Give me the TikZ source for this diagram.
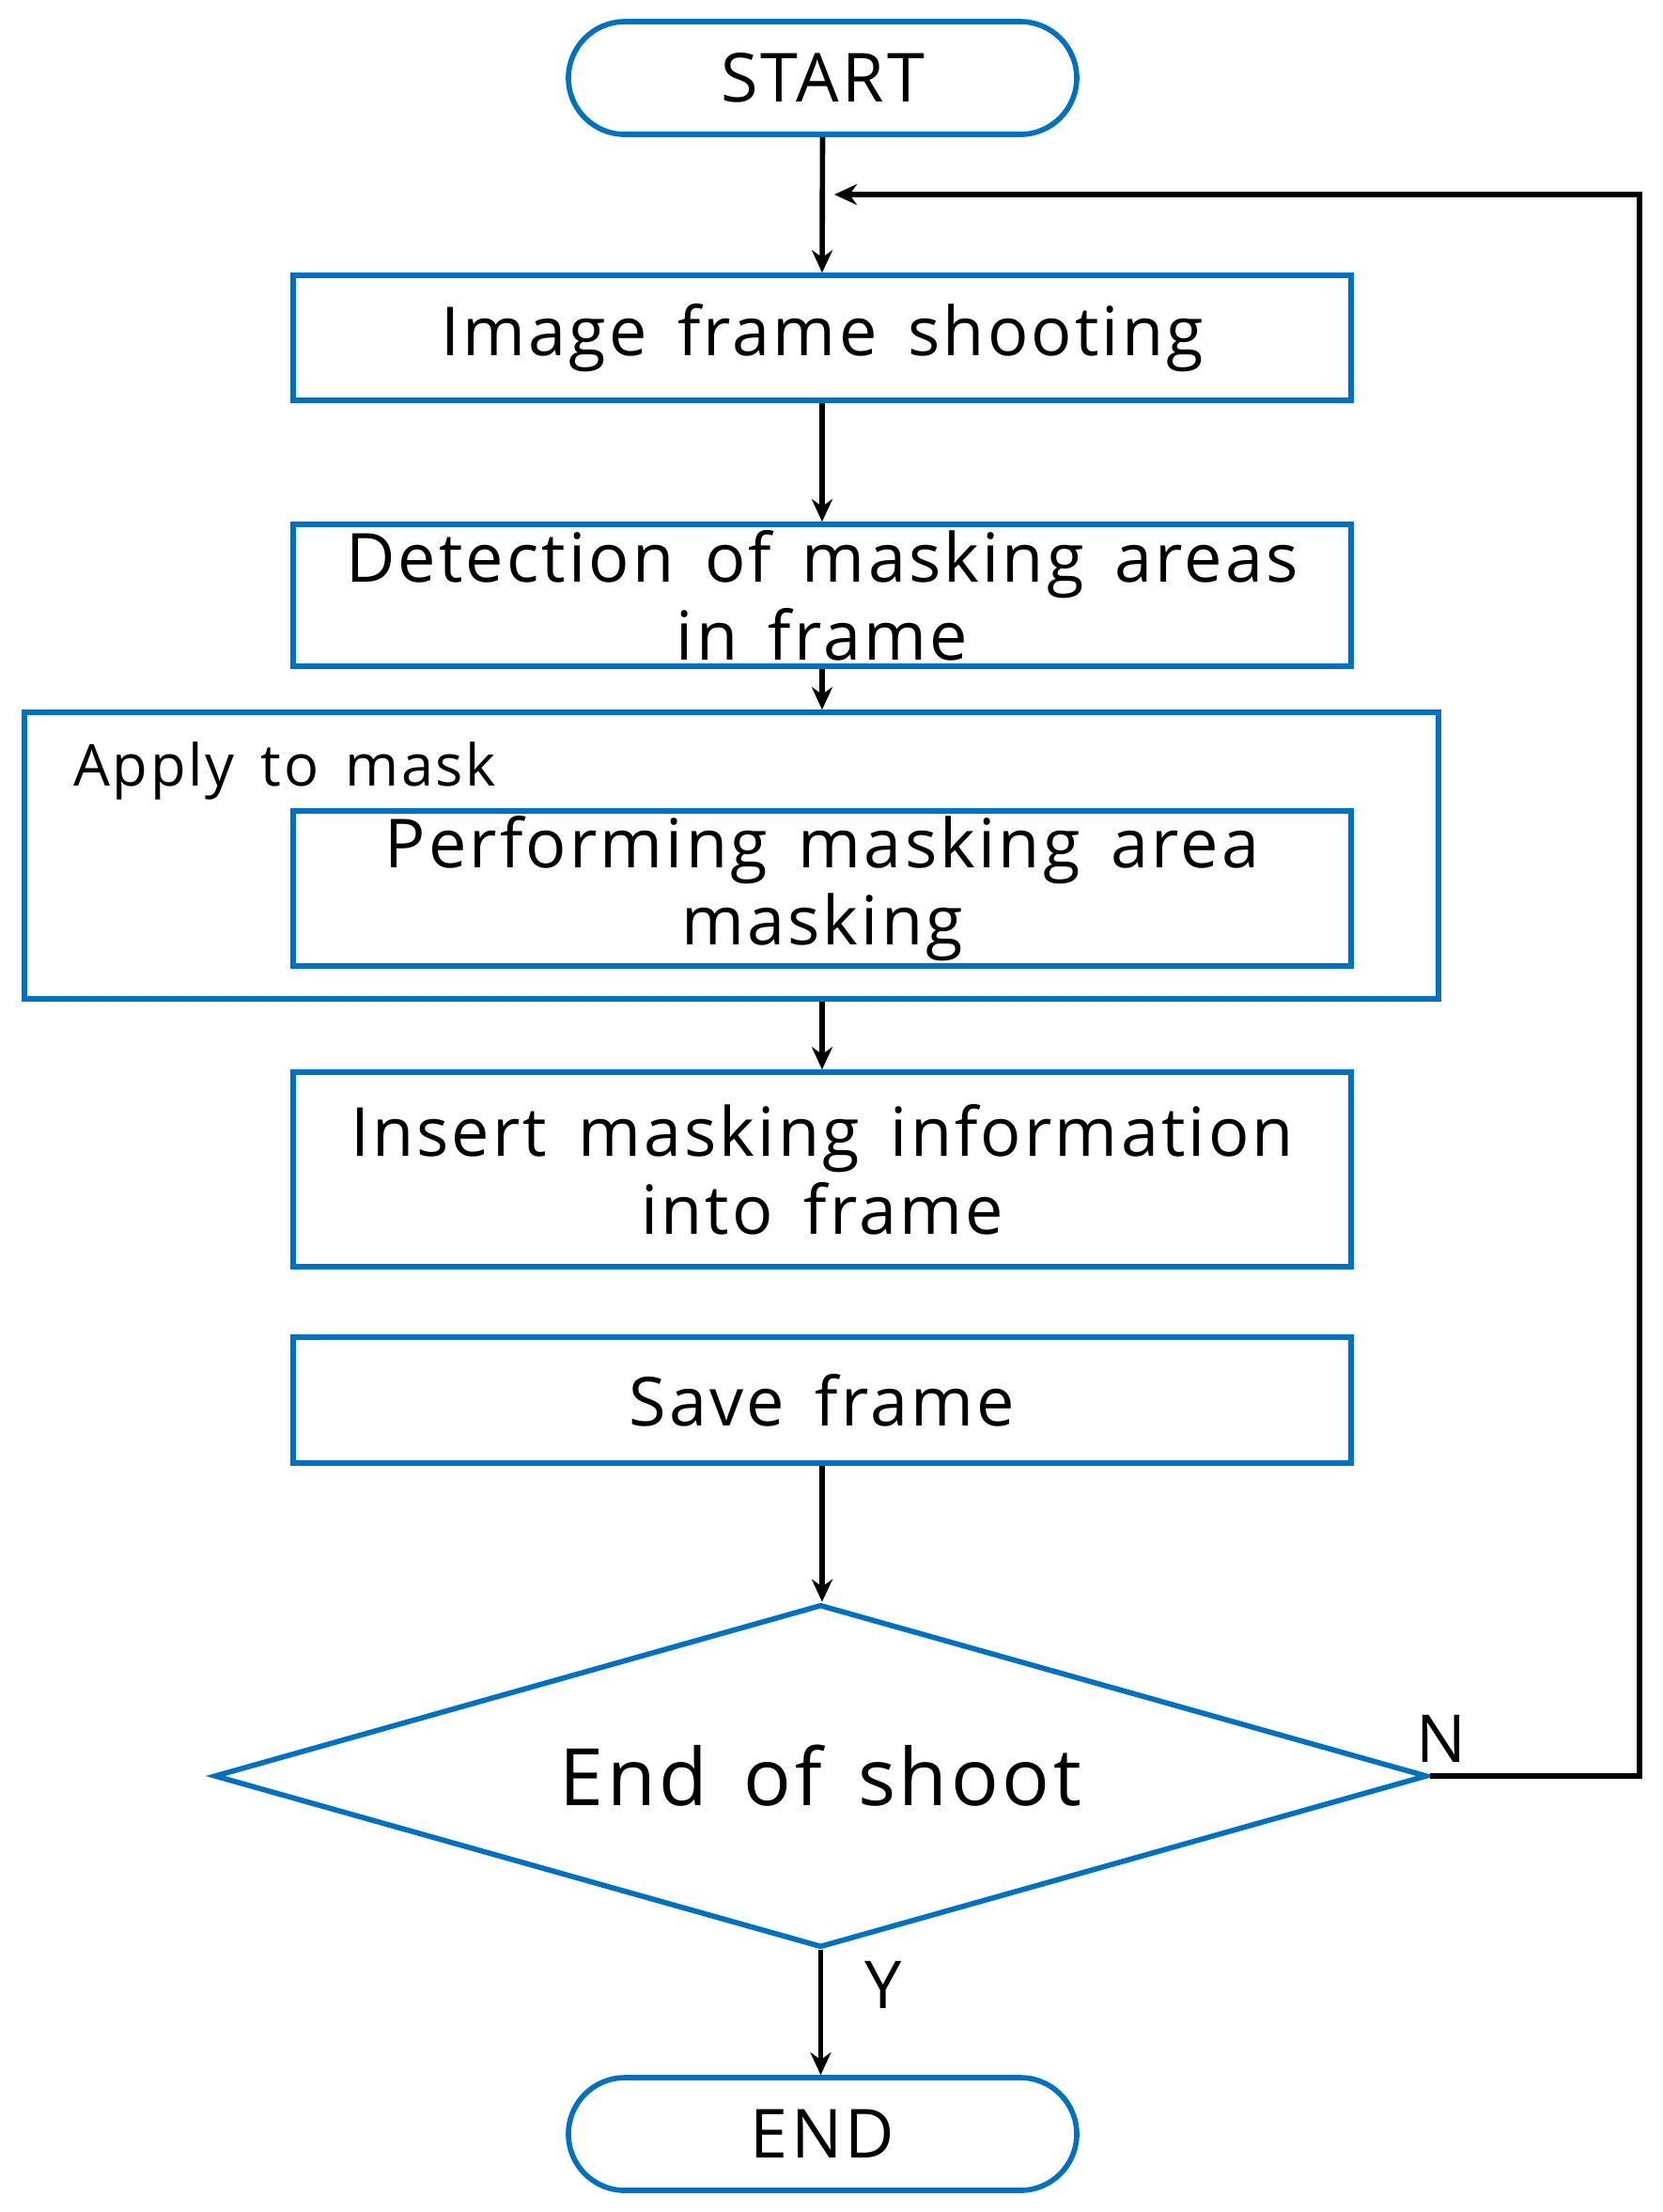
\documentclass[tikz,border=0pt]{standalone}
\usepackage{fontspec}
\setmainfont[LetterSpace=4.3, WordSpace=1.5]{Open Sans}
\usetikzlibrary{shapes.geometric}
\usetikzlibrary{arrows.meta}
\definecolor{boxblue}{RGB}{0,112,192}
\tikzset{
	flowbox/.style = {draw = boxblue, line width = 1.6pt, rectangle, minimum width = 11.26cm, align = center, inner sep = 0pt, font = \fontsize{20.5}{23.5}\selectfont},
	terminal/.style = {draw = boxblue, line width = 1.6pt, rectangle, rounded corners = 0.6cm, minimum width = 5.41cm, minimum height = 1.2cm, font = \fontsize{20.5}{23}\selectfont},
	flowarrow/.style = {draw, line width = 1.6pt, -{Stealth[length = 0.24cm, width = 0.22cm]}}
}

\begin{document}
\begin{tikzpicture}
		\useasboundingbox (0,0) rectangle (17.70,-23.54);
		\node (start)[terminal] at (8.755,-0.83) {START};
		\node (shoot)[flowbox, minimum height = 1.33cm] at (8.75,-3.595) {Image frame shooting};
		\node (detect)[flowbox, minimum height = 1.51cm] at (8.75,-6.335) {Detection of masking areas\\in frame};
		%
		\node (apply)[draw = boxblue, line width = 1.6pt, minimum width = 15.05cm, minimum height = 3.05cm] at (7.785,-9.105) {};
		\node (applylbl)[anchor = west, font = \fontsize{17.5}{19}\selectfont] at (0.66,-8.21) {Apply to mask};
		\node (perform)[flowbox, minimum height = 1.65cm] at (8.75,-9.455) {Performing masking area\\masking};
		%
		\node (insert)[flowbox, minimum height = 2.07cm] at (8.75,-12.445) {Insert masking information\\into frame};
		\node (save)[flowbox, minimum height = 1.34cm] at (8.75,-14.90) {Save frame};
		\node (check)[draw = boxblue, line width = 1.6pt, diamond, aspect = 3.54, minimum width = 12.91cm, minimum height = 3.65cm, inner sep = 0pt, font = \fontsize{24}{27}\selectfont] at (8.735,-18.90) {End of shoot};
		\node (end)[terminal] at (8.755,-22.71) {END};
		%
		\draw [flowarrow] (start.south) -- (shoot.north);
		\draw [flowarrow] (shoot.south) -- (detect.north);
		\draw [flowarrow] (detect.south) -- (detect.south |- apply.north);
		\draw [flowarrow] (apply.south -| insert.north) -- (insert.north);
		\draw [flowarrow] (save.south) -- (save.south |- check.north);
		\draw [flowarrow] (check.south) -- (check.south |- end.north);
		%
		\coordinate (loopin) at (8.88,-2.07);
		\draw [flowarrow] (check.east) -- ++(2.23,0) |- (loopin);
		\node (no)[font = \fontsize{20}{22}\selectfont] at (15.34,-18.50) {N};
		\node (yes)[font = \fontsize{20}{22}\selectfont] at (9.40,-21.12) {Y};
	\end{tikzpicture}
\end{document}
